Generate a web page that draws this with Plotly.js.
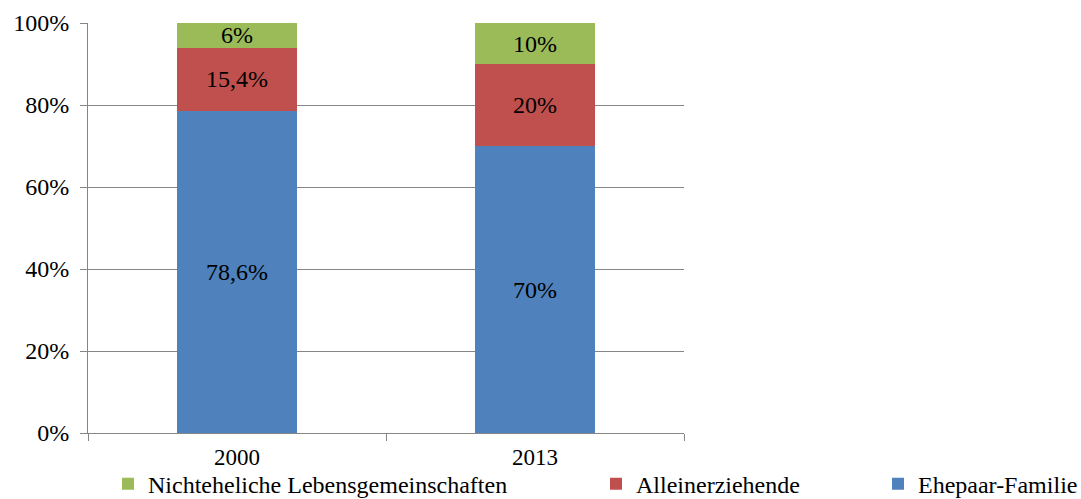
<!DOCTYPE html>
<html>
<head>
<meta charset="utf-8">
<script src="https://cdn.plot.ly/plotly-3.0.1.min.js"></script>
<style>html,body{margin:0;padding:0;background:#fff;}#chart{width:1081px;height:499px;}</style>
</head>
<body>
<div id="chart"></div>
<script>
const years = ["2000", "2013"];
const ehepaar = [78.6, 70];
const allein = [15.4, 20];
const nichtehelich = [6, 10];
const ehepaarLabels = ["78,6%", "70%"];
const alleinLabels = ["15,4%", "20%"];
const nichtehelichLabels = ["6%", "10%"];
const yTickVals = [0, 20, 40, 60, 80, 100];
const yTickText = ["0%", "20%", "40%", "60%", "80%", "100%"];

const font = {family: "'Liberation Serif', serif", size: 24, color: "#000"};
const smallFont = {family: "'Liberation Serif', serif", size: 23, color: "#000"};

function bar(name, y, text, color, legend) {
  return {
    type: "bar", name: name, x: years, y: y, text: text,
    textposition: "inside", insidetextanchor: "middle", constraintext: "none",
    textfont: font, insidetextfont: font, cliponaxis: false,
    marker: {color: color, line: {width: 0}},
    width: 0.4, hoverinfo: "skip", legend: legend
  };
}

const data = [
  bar("Ehepaar-Familie", ehepaar, ehepaarLabels, "#4F81BD", "legend3"),
  bar("Alleinerziehende", allein, alleinLabels, "#C0504D", "legend2"),
  bar("Nichteheliche Lebensgemeinschaften", nichtehelich, nichtehelichLabels, "#9BBB59", "legend")
];

const legBase = {orientation: "h", yref: "container", xref: "container", yanchor: "middle", y: 0.03, xanchor: "left",
  font: font, bgcolor: "rgba(0,0,0,0)", borderwidth: 0, itemwidth: 30, tracegroupgap: 0};

const layout = {
  width: 1081, height: 499,
  margin: {l: 88, r: 397, t: 23, b: 66, autoexpand: false},
  paper_bgcolor: "#fff", plot_bgcolor: "#fff",
  barmode: "stack",
  font: font,
  showlegend: true,
  xaxis: {
    type: "category", tickson: "boundaries", ticks: "outside", ticklen: 7,
    tickcolor: "#868686", tickwidth: 1, ticklabelstandoff: 3,
    showline: true, linecolor: "#868686", linewidth: 1,
    showgrid: false, tickfont: smallFont, fixedrange: true
  },
  yaxis: {
    range: [0, 100], tickvals: yTickVals, ticktext: yTickText,
    ticks: "outside", ticklen: 7, tickcolor: "#868686", ticklabelstandoff: 6,
    showline: true, linecolor: "#868686", linewidth: 1,
    showgrid: true, gridcolor: "#868686", gridwidth: 1,
    zeroline: false, tickfont: font, fixedrange: true
  },
  legend: Object.assign({}, legBase, {x: 108 / 1081}),
  legend2: Object.assign({}, legBase, {x: 596 / 1081}),
  legend3: Object.assign({}, legBase, {x: 878 / 1081})
};

Plotly.newPlot("chart", data, layout, {displayModeBar: false, staticPlot: true});
</script>
</body>
</html>
